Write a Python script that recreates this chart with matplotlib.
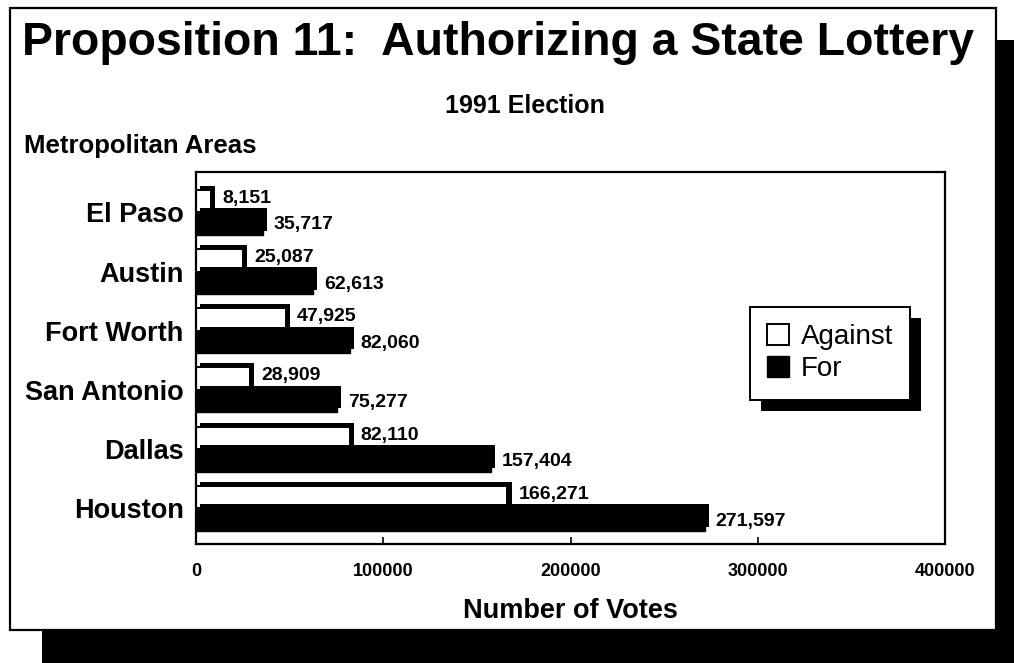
import matplotlib
matplotlib.use("Agg")
import matplotlib.pyplot as plt
from matplotlib.patches import Rectangle, Patch
from matplotlib import patheffects as pe

plt.rcParams['font.family'] = ['Liberation Sans', 'DejaVu Sans']

# Metropolitan areas, listed bottom to top
areas = ["Houston", "Dallas", "San Antonio", "Fort Worth", "Austin", "El Paso"]
votes_against = [166271, 82110, 28909, 47925, 25087, 8151]
votes_for = [271597, 157404, 75277, 82060, 62613, 35717]
series_labels = ["Against", "For"]
x_ticks = [0, 100000, 200000, 300000, 400000]

W, H = 1014, 663
fig = plt.figure(figsize=(W / 100, H / 100), dpi=100)
fig.patch.set_facecolor("white")


def fx(px):
    return px / W


def fy(py):
    return 1 - py / H


# Page panel with a heavy drop shadow
fig.add_artist(Rectangle((fx(42), fy(663)), fx(1014) - fx(42), fy(40) - fy(663),
                         transform=fig.transFigure, facecolor="black",
                         edgecolor="none", zorder=0))
fig.add_artist(Rectangle((fx(10), fy(630)), fx(996) - fx(10), fy(8) - fy(630),
                         transform=fig.transFigure, facecolor="white",
                         edgecolor="black", linewidth=1.6, zorder=0.5))

fig.text(fx(498), fy(43), "Proposition 11:  Authorizing a State Lottery",
         ha="center", va="center", fontsize=33.4, fontweight="bold")
fig.text(fx(525), fy(106), "1991 Election", ha="center", va="center",
         fontsize=18, fontweight="bold")
fig.text(fx(24), fy(146), "Metropolitan Areas", ha="left", va="center",
         fontsize=18.5, fontweight="bold")

ax = fig.add_axes([fx(196), fy(544), fx(945) - fx(196), fy(172) - fy(544)])
ax.set_zorder(2)

ypos = list(range(len(areas)))
h = 0.38
shadow = [pe.SimplePatchShadow(offset=(3, 3), shadow_rgbFace="black", alpha=1.0),
          pe.Normal()]

bars_a = ax.barh([y + h / 2 for y in ypos], votes_against, height=h,
                 color="white", edgecolor="black", linewidth=1.4,
                 label=series_labels[0])
bars_f = ax.barh([y - h / 2 for y in ypos], votes_for, height=h,
                 color="black", edgecolor="black", linewidth=1.0,
                 label=series_labels[1])
for b in list(bars_a) + list(bars_f):
    b.set_path_effects(shadow)

for y, v in zip(ypos, votes_against):
    ax.annotate(f"{v:,}", xy=(v, y + h / 2), xytext=(8, 2),
                textcoords="offset points", ha="left", va="center",
                fontsize=14, fontweight="bold")
for y, v in zip(ypos, votes_for):
    ax.annotate(f"{v:,}", xy=(v, y - h / 2), xytext=(8, -1),
                textcoords="offset points", ha="left", va="center",
                fontsize=14, fontweight="bold")

ax.set_xlim(x_ticks[0], x_ticks[-1])
ax.set_ylim(-0.6, 5.68)
ax.set_xticks(x_ticks)
ax.set_xticklabels([str(t) for t in x_ticks], fontsize=13, fontweight="bold")
ax.set_yticks(ypos)
ax.set_yticklabels(areas, fontsize=19.5, fontweight="bold")
ax.tick_params(axis="x", direction="in", length=5, width=1.2, pad=14)
ax.tick_params(axis="y", length=0, pad=9)
for s in ax.spines.values():
    s.set_linewidth(1.6)
ax.set_xlabel("Number of Votes", fontsize=19.5, fontweight="bold", labelpad=13)

handles = [Patch(facecolor="white", edgecolor="black", linewidth=1.4),
           Patch(facecolor="black", edgecolor="black")]
leg = fig.legend(handles, series_labels, loc="upper left",
                 bbox_to_anchor=(fx(750), fy(307)), fontsize=20,
                 frameon=True, fancybox=False, edgecolor="black",
                 framealpha=1, handlelength=0.8, handleheight=0.8,
                 handletextpad=0.4, labelspacing=0.2, borderpad=0.62,
                 borderaxespad=0)
leg.set_zorder(5)
leg.get_frame().set_linewidth(1.4)
leg.get_frame().set_path_effects(
    [pe.SimplePatchShadow(offset=(8, -8), shadow_rgbFace="black", alpha=1.0),
     pe.Normal()])

fig.savefig("out.png", dpi=100, facecolor="white")
